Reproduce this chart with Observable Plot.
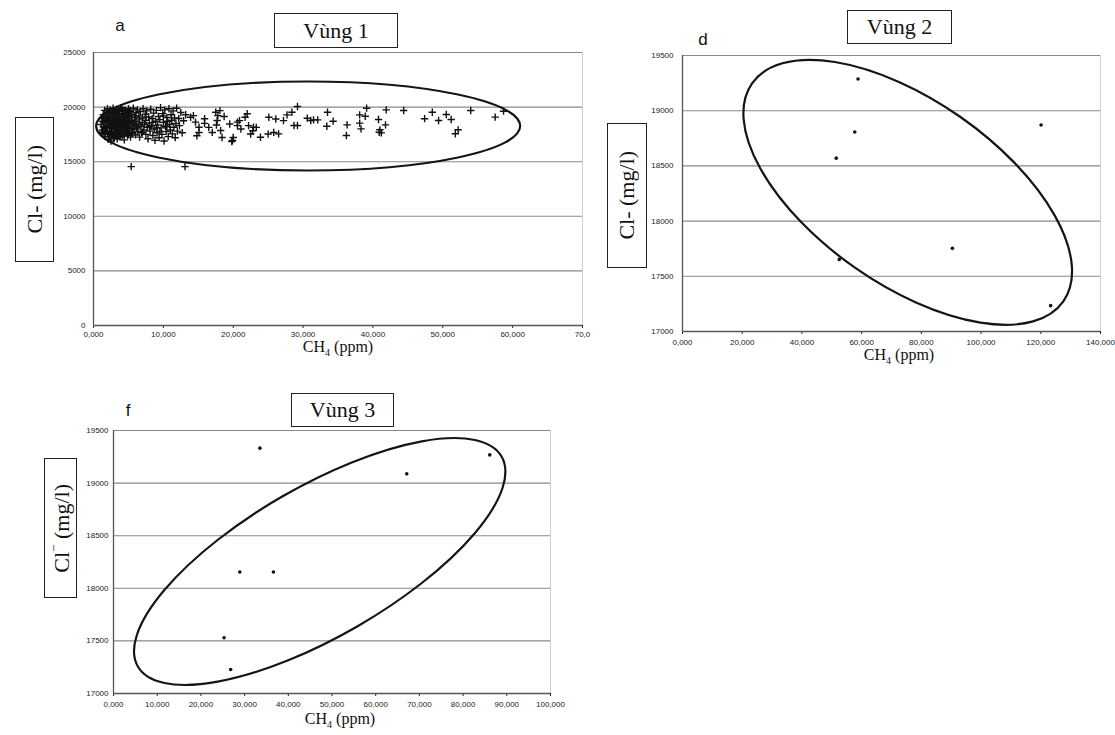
<!DOCTYPE html>
<html><head><meta charset="utf-8">
<script src="https://cdn.jsdelivr.net/npm/d3@7"></script>
<script src="https://cdn.jsdelivr.net/npm/@observablehq/plot@0.6"></script>
<style>
body{margin:0;background:#fff;}
#root{position:relative;width:1115px;height:735px;overflow:hidden;font-family:"Liberation Serif","Times New Roman",serif;color:#111;}
.title{position:absolute;border:1.5px solid #222;background:#fff;font-size:22px;text-align:center;box-sizing:border-box;display:flex;align-items:center;justify-content:center;}
.ybox{position:absolute;border:1.5px solid #222;background:#fff;box-sizing:border-box;display:flex;align-items:center;justify-content:center;}
.ybox span{writing-mode:vertical-rl;transform:rotate(180deg);font-size:22px;white-space:nowrap;}
.xlab{position:absolute;font-size:16px;line-height:16px;white-space:nowrap;transform:translate(-50%,-50%);}
.letter{position:absolute;font-family:"Liberation Sans",Arial,sans-serif;font-size:17px;transform:translate(-50%,-50%);}
</style>
</head><body>
<div id="root">
  <div class="letter" style="left:120px;top:26px">a</div>
  <div class="letter" style="left:703px;top:40px">d</div>
  <div class="letter" style="left:128px;top:411px">f</div>
  <div class="title" style="left:274px;top:13px;width:124px;height:35px">Vùng 1</div>
  <div class="title" style="left:847px;top:10px;width:105px;height:34px">Vùng 2</div>
  <div class="title" style="left:291px;top:393px;width:103px;height:34px">Vùng 3</div>
  <div class="ybox" style="left:15px;top:117px;width:39px;height:145px"><span>Cl- (mg/l)</span></div>
  <div class="ybox" style="left:607px;top:123px;width:40px;height:145px"><span>Cl- (mg/l)</span></div>
  <div class="ybox" style="left:44px;top:458px;width:33px;height:140px"><span>Cl<sup style="font-size:13px">−</sup> (mg/l)</span></div>
  <div class="xlab" style="left:338px;top:350px">CH<sub style="font-size:10px">4</sub> (ppm)</div>
  <div class="xlab" style="left:899px;top:358px">CH<sub style="font-size:10px">4</sub> (ppm)</div>
  <div class="xlab" style="left:340px;top:722px">CH<sub style="font-size:10px">4</sub> (ppm)</div>
</div>
<script>
// ---------- Vùng 1 (panel a) ----------
const xTicks1 = [0, 10, 20, 30, 40, 50, 60, 70];
const xLabels1 = ["0,000", "10,000", "20,000", "30,000", "40,000", "50,000", "60,000", "70,0"];
const yTicks1 = [0, 5000, 10000, 15000, 20000, 25000];
const yLabels1 = ["0", "5000", "10000", "15000", "20000", "25000"];
const vung1 = [
[1.1,18400],[1.2,18950],[1.3,17900],[1.4,19300],[1.5,18600],[1.5,17600],[1.6,19700],[1.7,18150],[1.7,17300],[1.8,19050],
[1.9,18750],[1.9,17800],[2.0,19850],[2.0,18350],[2.1,17050],[2.1,19450],[2.2,18650],[2.2,17500],[2.3,19150],[2.3,18050],
[2.4,19750],[2.4,17750],[2.5,18500],[2.5,16900],[2.6,19350],[2.6,18200],[2.7,19000],[2.7,17400],[2.8,19900],[2.8,18800],
[2.9,17950],[2.9,18450],[3.0,19550],[3.0,17200],[3.1,18700],[3.1,19200],[3.2,18000],[3.2,17650],[3.3,19800],[3.3,18350],
[3.4,18950],[3.4,17100],[3.5,19400],[3.5,18550],[3.6,17850],[3.6,19650],[3.7,18250],[3.7,17450],[3.8,19100],[3.8,18650],
[3.9,19950],[3.9,17700],[4.0,18400],[4.0,19300],[4.1,17300],[4.1,18850],[4.2,19600],[4.2,18100],[4.3,17550],[4.3,19050],
[4.4,18500],[4.4,17000],[4.5,19750],[4.5,18750],[4.6,17900],[4.6,19250],[4.7,18300],[4.7,17650],[4.8,19500],[4.8,18900],
[4.9,17400],[4.9,18150],[5.0,19850],[5.0,18600],[5.1,17800],[5.1,19150],[5.2,18400],[5.3,17250],[5.3,19600],[5.4,18800],
[5.5,18050],[5.5,19350],[5.6,17600],[5.7,18550],[5.7,19900],[5.8,17950],[5.9,19050],[5.9,18300],[6.0,17450],[6.1,19500],
[6.1,18700],[6.2,18100],[6.3,19750],[6.3,17750],[6.4,18450],[6.5,19200],[6.6,17250],[6.6,18900],[6.7,19600],[6.8,18250],
[6.9,17650],[7.0,19000],[7.0,18600],[7.1,19850],[7.2,17900],[7.3,18400],[7.4,19350],[7.5,17500],[7.5,18800],[7.6,19650],
[7.7,18150],[7.8,17100],[7.9,19100],[8.0,18550],[8.1,17800],[8.2,19800],[8.3,18300],[8.4,18950],[8.5,17400],[8.6,19450],
[8.7,18000],[8.8,16950],[8.9,18700],[9.0,19700],[9.1,17650],[9.2,18350],[9.3,19150],[9.4,17200],[9.5,18850],[9.6,19950],
[9.7,18100],[9.8,17500],[9.9,19400],[10.0,18600],[10.1,16900],[10.2,19750],[10.3,18250],[10.4,17750],[10.5,19050],[10.6,18700],
[10.7,17300],[10.8,19850],[10.9,18400],[11.0,17900],[11.1,19300],[11.2,18800],[11.3,17550],[11.4,19650],[11.5,18150],[11.6,19000],
[11.7,17200],[11.8,18500],[11.9,19900],[12.0,17800],[12.2,18950],[12.3,18300],[12.5,19500],[12.7,17650],[12.9,18750],[13.2,19300],
[1.3,18700],[1.6,18000],[1.8,19400],[2.0,17700],[2.2,18900],[2.4,18300],[2.6,17600],[2.8,19500],[3.0,18150],[3.2,19000],
[3.4,17800],[3.6,18450],[3.8,17250],[4.0,19700],[4.2,18700],[4.4,19400],[4.6,18050],[4.8,17550],[5.0,19200],[5.2,19700],
[1.4,18200],[1.7,17500],[1.9,19200],[2.1,18550],[2.3,17300],[2.5,19600],[2.7,18600],[2.9,17100],[3.1,19450],[3.3,17500],
[3.5,18850],[3.7,19350],[3.9,18200],[4.1,19900],[4.3,18350],[4.5,17700],[4.7,19650],[4.9,19000],[5.1,18200],[5.4,17650],
[1.2,17700],[1.5,19000],[2.0,18950],[2.5,18050],[3.0,18900],[3.5,17300],[4.0,18050],[4.5,18250],[5.0,17500],[5.5,18700],
[6.0,19200],[6.5,18200],[7.0,17700],[7.5,19100],[8.0,18200],[8.5,18600],[9.0,18100],[9.5,17800],[10.0,19200],[10.5,18200],
[13.9,19075],[14.3,19220],[14.6,18620],[15.1,18160],[15.1,17680],[14.8,17370],[15.9,18930],[15.9,18510],[16.5,18140],[17.0,17680],
[17.5,19530],[17.7,18770],[18.1,19680],[17.8,19220],[18.7,19140],[18.2,17860],[18.4,17220],[17.6,18360],[19.5,18450],[19.9,16940],
[20.6,18620],[20.6,18300],[20.9,18760],[21.1,17990],[22.0,19390],[21.7,19070],[22.2,18300],[22.9,18160],[22.8,17830],[23.3,18140],
[22.5,17530],[23.9,17240],[25.1,19075],[25.0,17530],[25.8,17680],[26.1,18910],[26.5,17550],[27.2,18760],[20.0,17220],[19.8,16850],
[29.2,20055],[28.4,19530],[27.7,19290],[28.7,18315],[29.2,18315],[30.6,18985],[31.1,18770],[31.5,18830],[32.1,18830],[33.5,19530],
[33.4,18250],[34.3,18710],[36.3,18375],[36.2,17400],[38.1,19290],[38.9,19165],[39.1,19900],[38.1,18530],[38.3,18010],[40.8,18860],
[41.9,19750],[41.8,18375],[41.0,17920],[41.2,17640],[40.9,17700],[44.4,19690],[47.4,18940],[48.5,19530],[49.4,18770],[50.5,19320],
[51.2,18860],[52.2,17920],[51.8,17560],[54.0,19690],[57.5,19080],[58.7,19625],[5.4,14545],[13.1,14545]
];

// ---------- Vùng 2 (panel d) ----------
const xTicks2 = [0, 20, 40, 60, 80, 100, 120, 140];
const xLabels2 = ["0,000", "20,000", "40,000", "60,000", "80,000", "100,000", "120,000", "140,000"];
const yTicks2 = [17000, 17500, 18000, 18500, 19000, 19500];
const yLabels2 = ["17000", "17500", "18000", "18500", "19000", "19500"];
const ch4Vung2 = [58.8, 57.7, 51.5, 120.1, 90.4, 52.5, 123.3];
const clVung2 = [19287, 18807, 18570, 18871, 17753, 17653, 17234];

// ---------- Vùng 3 (panel f) ----------
const xTicks3 = [0, 10, 20, 30, 40, 50, 60, 70, 80, 90, 100];
const xLabels3 = ["0,000", "10,000", "20,000", "30,000", "40,000", "50,000", "60,000", "70,000", "80,000", "90,000", "100,000"];
const yTicks3 = [17000, 17500, 18000, 18500, 19000, 19500];
const yLabels3 = ["17000", "17500", "18000", "18500", "19000", "19500"];
const ch4Vung3 = [33.5, 67.1, 86.1, 28.9, 36.6, 25.3, 26.8];
const clVung3 = [19332, 19088, 19268, 18155, 18155, 17530, 17228];

// ellipse annotations: centre in data units, radii in px, rotation in degrees
function ellipseMark(e) {
  return (index, scales) => {
    const cx = scales.x(e.cx), cy = scales.y(e.cy);
    return d3.create("svg:ellipse")
      .attr("cx", cx).attr("cy", cy).attr("rx", e.rx).attr("ry", e.ry)
      .attr("transform", `rotate(${e.angle} ${cx} ${cy})`)
      .attr("fill", "none").attr("stroke", "#151515").attr("stroke-width", 2.2)
      .node();
  };
}

function panel(o) {
  const fmtX = d => o.xLabels[o.xTicks.indexOf(d)];
  const fmtY = d => o.yLabels[o.yTicks.indexOf(d)];
  const svg = Plot.plot({
    width: o.width, height: o.height,
    marginLeft: o.ml, marginRight: o.mr, marginTop: o.mt, marginBottom: o.mb,
    style: {fontFamily: "'Liberation Sans', Arial, sans-serif", fontSize: "8px", color: "#222", background: "transparent", overflow: "visible"},
    x: {domain: o.xDomain, ticks: o.xTicks, tickFormat: fmtX, tickSize: 3, tickPadding: o.xPad, label: null},
    y: {domain: o.yDomain, ticks: o.yTicks, tickFormat: fmtY, tickSize: 0, tickPadding: o.yPad, label: null},
    marks: [
      Plot.ruleY(o.yTicks.slice(1), {stroke: "#8a8a8a", strokeWidth: 1.1}),
      Plot.ruleX([o.xDomain[1]], {stroke: "#d0d0d0"}),
      Plot.ruleX([o.xDomain[0]], {stroke: "#555", strokeWidth: 1.3}),
      Plot.ruleY([o.yDomain[0]], {stroke: "#555", strokeWidth: 1.3}),
      ellipseMark(o.ell),
      o.dots
    ]
  });
  svg.style.position = "absolute";
  svg.style.left = o.left + "px";
  svg.style.top = o.top + "px";
  document.getElementById("root").prepend(svg);
}

panel({
  left: 0, top: 0, width: 600, height: 360, ml: 93, mr: 18, mt: 52, mb: 35, xPad: 3, yPad: 8,
  xDomain: [0, 70], xTicks: xTicks1, xLabels: xLabels1,
  yDomain: [0, 25000], yTicks: yTicks1, yLabels: yLabels1,
  ell: {cx: 30.8, cy: 18223, rx: 212, ry: 44.5, angle: 0},
  dots: Plot.dot(vung1, {x: d => d[0], y: d => d[1], symbol: "plus", r: 2.5, stroke: "#111", strokeWidth: 1.4})
});

panel({
  left: 600, top: 0, width: 515, height: 370, ml: 82, mr: 15, mt: 55, mb: 39, xPad: 5, yPad: 9,
  xDomain: [0, 140], xTicks: xTicks2, xLabels: xLabels2,
  yDomain: [17000, 19500], yTicks: yTicks2, yLabels: yLabels2,
  ell: {cx: 75.6, cy: 18256, rx: 190, ry: 92, angle: 35},
  dots: Plot.dot(ch4Vung2.map((c, i) => ({c, v: clVung2[i]})), {x: "c", y: "v", r: 1.8, fill: "#111", stroke: "none"})
});

panel({
  left: 0, top: 380, width: 600, height: 355, ml: 113, mr: 50, mt: 50, mb: 42, xPad: 5, yPad: 5,
  xDomain: [0, 100], xTicks: xTicks3, xLabels: xLabels3,
  yDomain: [17000, 19500], yTicks: yTicks3, yLabels: yLabels3,
  ell: {cx: 47.3, cy: 18250, rx: 210, ry: 75, angle: -30},
  dots: Plot.dot(ch4Vung3.map((c, i) => ({c, v: clVung3[i]})), {x: "c", y: "v", r: 1.8, fill: "#111", stroke: "none"})
});
</script>
</body></html>
